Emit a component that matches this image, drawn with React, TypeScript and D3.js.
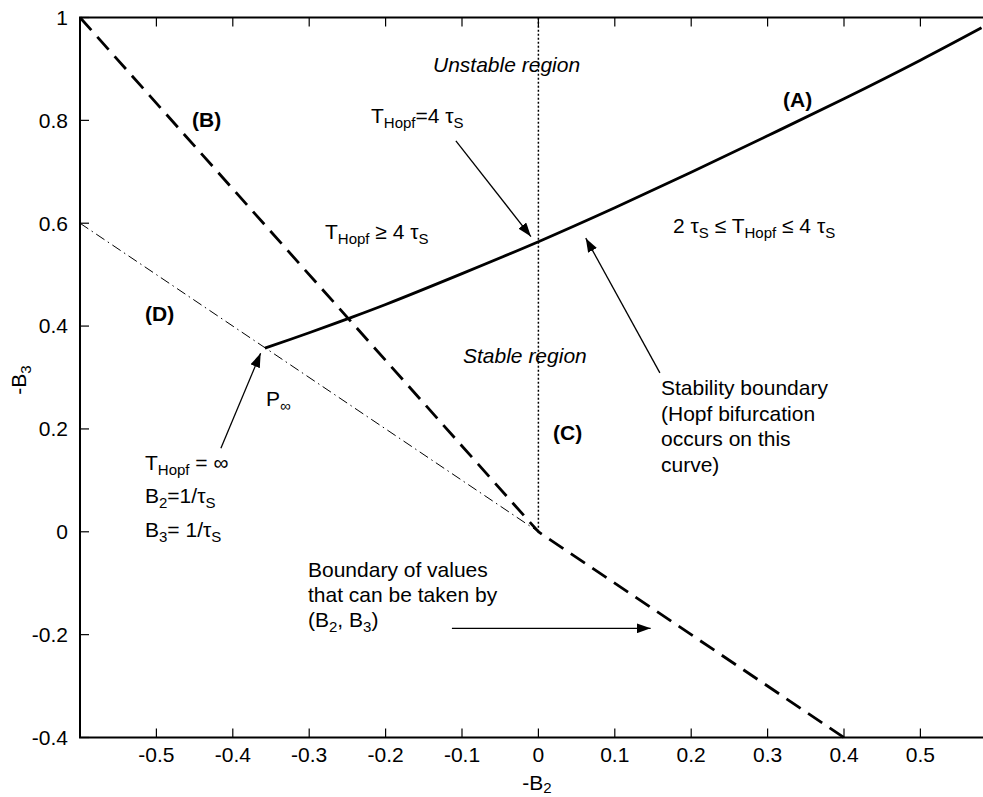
import React from "react";
import * as d3 from "d3";

// Hopf stability diagram in the (-B2, -B3) plane

const xTicks = [-0.5, -0.4, -0.3, -0.2, -0.1, 0, 0.1, 0.2, 0.3, 0.4, 0.5];
const yTicks = [-0.4, -0.2, 0, 0.2, 0.4, 0.6, 0.8, 1];

// (A) stability boundary curve
const curveAX = [-0.358, -0.3, -0.25, -0.2, -0.1, 0, 0.1, 0.2, 0.3, 0.4, 0.5, 0.58];
const curveAY = [0.357, 0.387, 0.414, 0.442, 0.502, 0.564, 0.63, 0.699, 0.77, 0.842, 0.917, 0.98];

// (B) boundary of admissible values (dashed)
const boundaryX = [-0.6, 0, 0.4];
const boundaryY = [1, 0, -0.4];

// (D) dash-dot line
const lineDX = [-0.6, 0];
const lineDY = [0.6, 0];

// (C) vertical dotted line
const lineCX = [0, 0];
const lineCY = [0, 1];

// annotation arrows, [x0, y0, x1, y1] in data units
const arrows = [
  [-0.108, 0.76, -0.0098, 0.574],
  [0.159, 0.309, 0.062, 0.571],
  [-0.4156, 0.1625, -0.3636, 0.347],
  [-0.1132, -0.1877, 0.1469, -0.1877],
];

const W = 983;
const H = 797;
const FONT = "'Liberation Sans', Arial, sans-serif";
const FS = 21;
const SUB = 15;

type Seg = { t: string; sub?: boolean };

const Rich = ({ x, y, segs, anchor = "start", style = {}, shift = 5 }: { x: number; y: number; segs: Seg[]; anchor?: string; style?: any; shift?: number }) => {
  let shifted = false;
  const parts = segs.map((s, i) => {
    let dy = 0;
    if (s.sub && !shifted) { dy = shift; shifted = true; }
    else if (!s.sub && shifted) { dy = -shift; shifted = false; }
    return (
      <tspan key={i} dy={dy} fontSize={s.sub ? SUB : FS}>{s.t}</tspan>
    );
  });
  return (
    <text x={x} y={y} textAnchor={anchor} fontFamily={FONT} fontSize={FS} fill="#000" style={style}>
      {parts}
    </text>
  );
};

export default function App() {
  const x = d3.scaleLinear().domain([-0.6, 0.6]).range([80, 80 + 1.2 * 764]);
  const y = d3.scaleLinear().domain([-0.4, 1]).range([737.5, 17.5]);

  const pts = (xs: number[], ys: number[]) => xs.map((v, i) => [v, ys[i]] as [number, number]);
  const lineGen = d3.line<[number, number]>().x((d) => x(d[0])).y((d) => y(d[1]));
  const smooth = d3.line<[number, number]>().x((d) => x(d[0])).y((d) => y(d[1])).curve(d3.curveCatmullRom);

  const x0 = x.range()[0], x1 = x.range()[1];
  const y0 = y.range()[1], y1 = y.range()[0];
  const tick = 9;

  return (
    <svg width={W} height={H} style={{ position: "absolute", left: 0, top: 0, background: "#fff" }}>
      <defs>
        <marker id="ah" viewBox="0 0 14 10" refX="14" refY="5" markerWidth="14" markerHeight="10" markerUnits="userSpaceOnUse" orient="auto">
          <path d="M0,0 L14,5 L0,10 Z" fill="#000" />
        </marker>
      </defs>

      {/* frame */}
      <rect x={x0} y={y0} width={x1 - x0} height={y1 - y0} fill="none" stroke="#000" strokeWidth={2} />

      {/* ticks */}
      {xTicks.map((t) => (
        <g key={"xt" + t}>
          <line x1={x(t)} x2={x(t)} y1={y1} y2={y1 - tick} stroke="#000" strokeWidth={1.2} />
          <line x1={x(t)} x2={x(t)} y1={y0} y2={y0 + tick} stroke="#000" strokeWidth={1.2} />
          <text x={x(t)} y={762} textAnchor="middle" fontFamily={FONT} fontSize={FS}>{String(t)}</text>
        </g>
      ))}
      {yTicks.map((t) => (
        <g key={"yt" + t}>
          <line x1={x0} x2={x0 + tick} y1={y(t)} y2={y(t)} stroke="#000" strokeWidth={1.2} />
          <line x1={x1} x2={x1 - tick} y1={y(t)} y2={y(t)} stroke="#000" strokeWidth={1.2} />
          <text x={68} y={y(t)} dy="0.35em" textAnchor="end" fontFamily={FONT} fontSize={FS}>{String(t)}</text>
        </g>
      ))}

      {/* axis labels */}
      <Rich x={537} y={790} anchor="middle" shift={3} segs={[{ t: "-B" }, { t: "2", sub: true }]} />
      <g transform="translate(26,380) rotate(-90)">
        <Rich x={0} y={0} anchor="middle" segs={[{ t: "-B" }, { t: "3", sub: true }]} />
      </g>

      {/* curves */}
      <path d={lineGen(pts(lineCX, lineCY)) || ""} fill="none" stroke="#000" strokeWidth={1.5} strokeDasharray="2,2" />
      <path d={lineGen(pts(lineDX, lineDY)) || ""} fill="none" stroke="#000" strokeWidth={1} strokeDasharray="10,4,1.5,4" />
      <path d={lineGen(pts(boundaryX, boundaryY)) || ""} fill="none" stroke="#000" strokeWidth={2.8} strokeDasharray="17,9" />
      <path d={smooth(pts(curveAX, curveAY)) || ""} fill="none" stroke="#000" strokeWidth={2.8} />

      {/* arrows */}
      {arrows.map((a, i) => (
        <line key={"ar" + i} x1={x(a[0])} y1={y(a[1])} x2={x(a[2])} y2={y(a[3])} stroke="#000" strokeWidth={1.3} markerEnd="url(#ah)" />
      ))}

      {/* annotations */}
      <Rich x={433} y={72} segs={[{ t: "Unstable region" }]} style={{ fontStyle: "italic" }} />
      <Rich x={463} y={363} segs={[{ t: "Stable region" }]} style={{ fontStyle: "italic" }} />
      <Rich x={783} y={107} segs={[{ t: "(A)" }]} style={{ fontWeight: "bold" }} />
      <Rich x={192} y={127} segs={[{ t: "(B)" }]} style={{ fontWeight: "bold" }} />
      <Rich x={553} y={440} segs={[{ t: "(C)" }]} style={{ fontWeight: "bold" }} />
      <Rich x={145} y={321} segs={[{ t: "(D)" }]} style={{ fontWeight: "bold" }} />

      <Rich x={371} y={123} segs={[{ t: "T" }, { t: "Hopf", sub: true }, { t: "=4 τ" }, { t: "S", sub: true }]} />
      <Rich x={325} y={239} segs={[{ t: "T" }, { t: "Hopf", sub: true }, { t: " ≥ 4 τ" }, { t: "S", sub: true }]} />
      <Rich x={673} y={233} segs={[{ t: "2 τ" }, { t: "S", sub: true }, { t: " ≤ T" }, { t: "Hopf", sub: true }, { t: " ≤ 4 τ" }, { t: "S", sub: true }]} />

      <Rich x={661} y={395} segs={[{ t: "Stability boundary" }]} />
      <Rich x={661} y={421} segs={[{ t: "(Hopf bifurcation" }]} />
      <Rich x={661} y={446} segs={[{ t: "occurs on this" }]} />
      <Rich x={661} y={472} segs={[{ t: "curve)" }]} />

      <Rich x={266} y={406} segs={[{ t: "P" }, { t: "∞", sub: true }]} />
      <Rich x={145} y={470} segs={[{ t: "T" }, { t: "Hopf", sub: true }, { t: " = ∞" }]} />
      <Rich x={145} y={503} segs={[{ t: "B" }, { t: "2", sub: true }, { t: "=1/τ" }, { t: "S", sub: true }]} />
      <Rich x={145} y={537} segs={[{ t: "B" }, { t: "3", sub: true }, { t: "= 1/τ" }, { t: "S", sub: true }]} />

      <Rich x={308} y={577} segs={[{ t: "Boundary of values" }]} />
      <Rich x={308} y={602} segs={[{ t: "that can be taken by" }]} />
      <Rich x={308} y={627} segs={[{ t: "(B" }, { t: "2", sub: true }, { t: ", B" }, { t: "3", sub: true }, { t: ")" }]} />
    </svg>
  );
}
